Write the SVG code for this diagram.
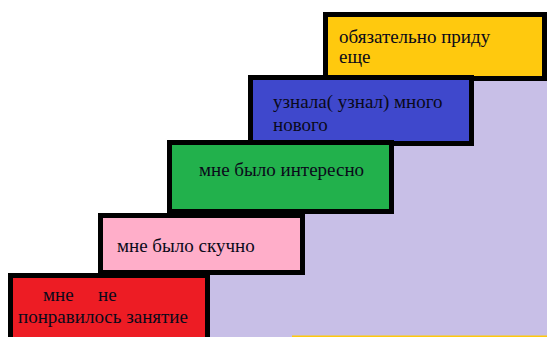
<svg xmlns="http://www.w3.org/2000/svg" width="547" height="337" viewBox="0 0 547 337">
<style>
.box{stroke:#000;stroke-width:5}
.t{font-family:"Liberation Serif","Times New Roman",serif;font-size:19px;fill:#0a0a1a}
</style>
<rect x="0" y="0" width="547" height="337" fill="#fff"/>
<polygon points="208,337 208,275 303,275 303,212 392,212 392,144 472,144 472,79 547,79 547,337" fill="#C8BFE7"/>
<rect x="292" y="335.5" width="255" height="2" fill="#FFC90E"/>
<g id="step5">
<rect class="box" x="325.5" y="14.5" width="219" height="64" fill="#FFC90E"/>
<text class="t" x="339" y="43">обязательно приду</text>
<text class="t" x="339" y="63">еще</text>
</g>
<g id="step4">
<rect class="box" x="250.5" y="77.5" width="221" height="66" fill="#3F48CC"/>
<text class="t" x="273" y="108">узнала( узнал) много</text>
<text class="t" x="273" y="131">нового</text>
</g>
<g id="step3">
<rect class="box" x="169.5" y="142.5" width="222" height="69" fill="#22B14C"/>
<text class="t" x="199" y="176">мне было интересно</text>
</g>
<g id="step2">
<rect class="box" x="100.5" y="215.5" width="202" height="57" fill="#FFAEC9"/>
<text class="t" x="117" y="252">мне было скучно</text>
</g>
<g id="step1">
<rect class="box" x="10.5" y="275.5" width="197" height="70" fill="#ED1C24"/>
<text class="t" x="43" y="301">мне</text>
<text class="t" x="98" y="301">не</text>
<text class="t" x="18" y="323">понравилось занятие</text>
</g>
<g id="connectors"/>
</svg>
